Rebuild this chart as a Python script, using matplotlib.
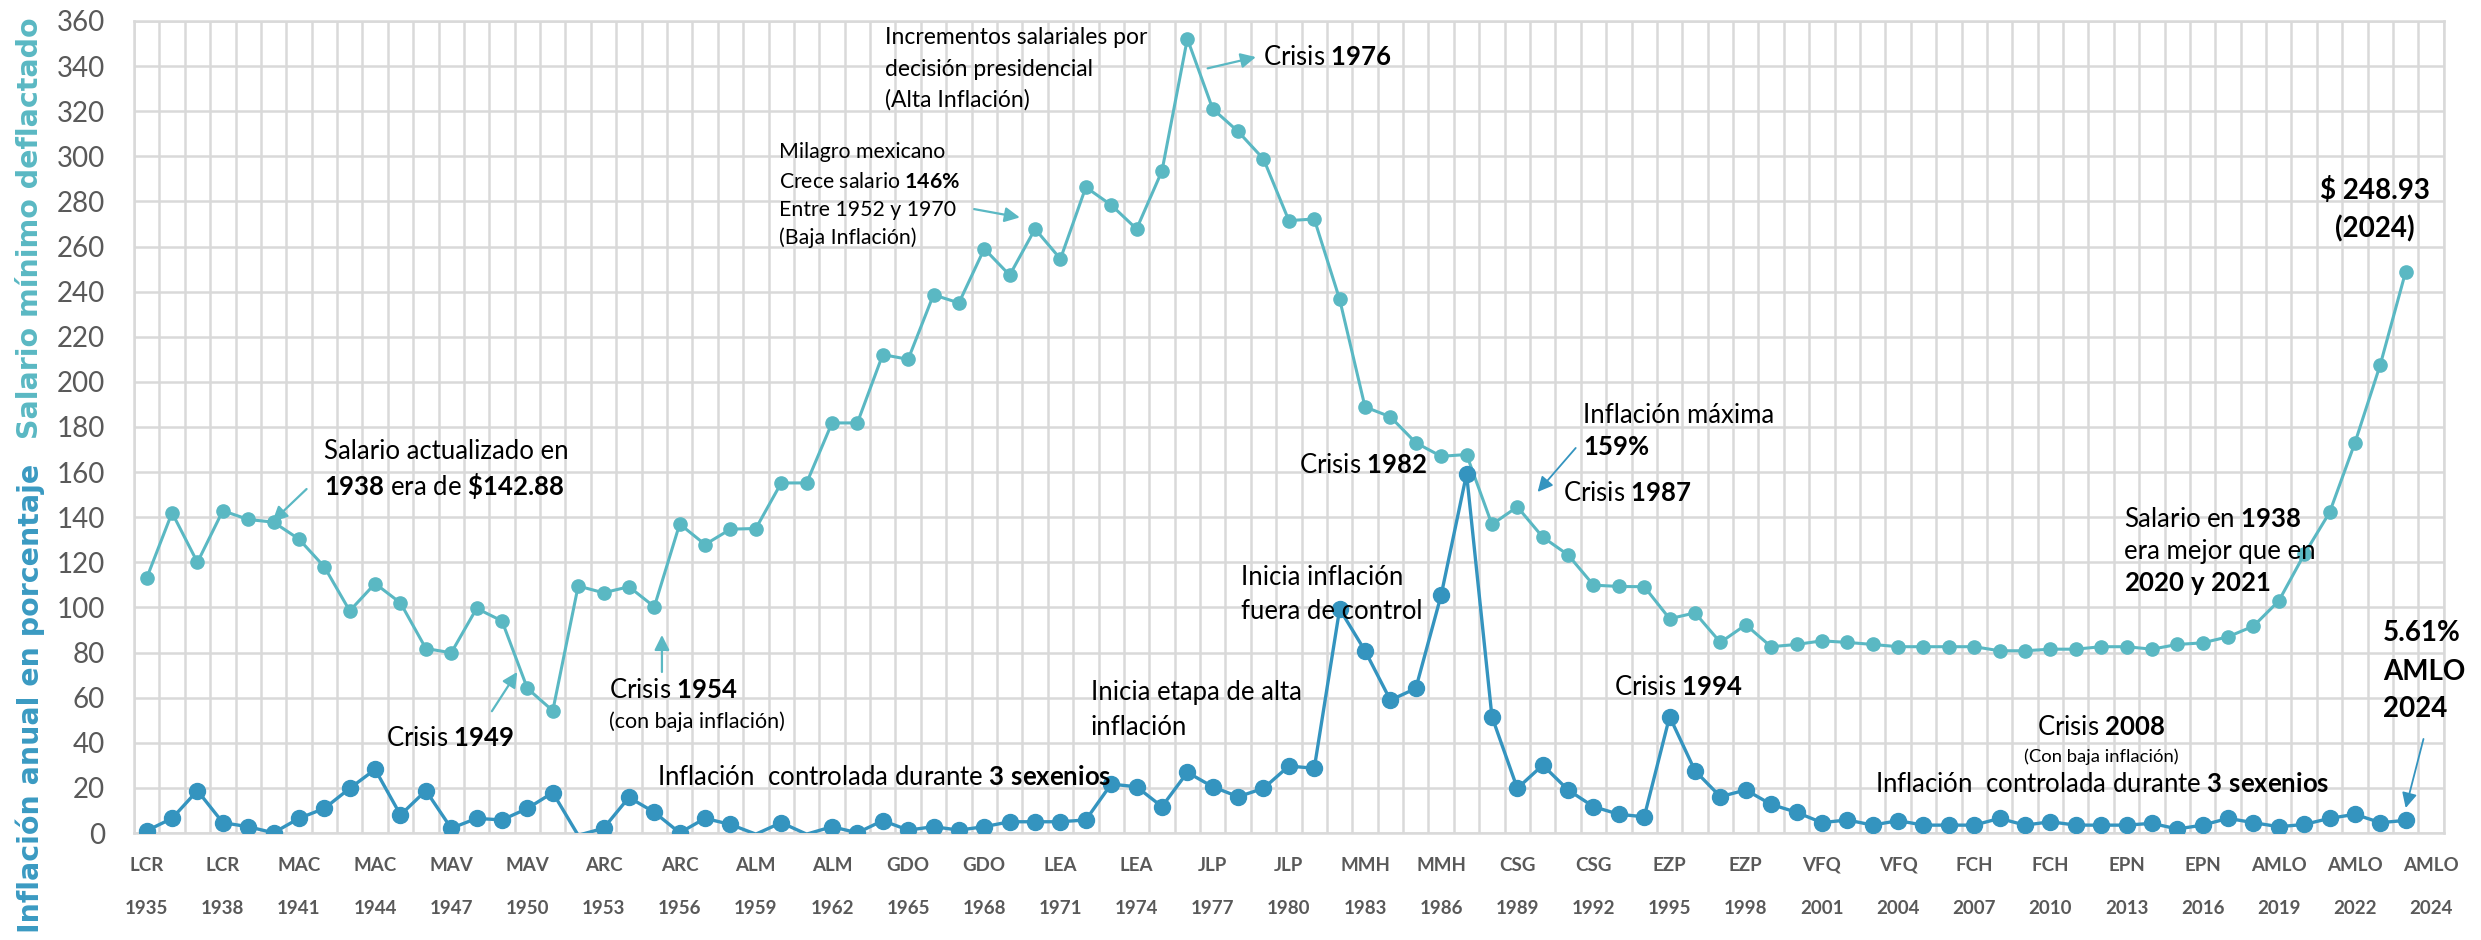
import matplotlib
matplotlib.use("Agg")
import matplotlib.pyplot as plt

plt.rcParams['font.family'] = ['Lato', 'DejaVu Sans']
plt.rcParams['mathtext.fontset'] = 'custom'
plt.rcParams['mathtext.rm'] = 'Lato'
plt.rcParams['mathtext.bf'] = 'Lato:bold'
plt.rcParams['mathtext.it'] = 'Lato:italic'

# ---- data ----
years = list(range(1935, 2025))
salario = [113, 142, 120, 142.88, 139, 137.8, 130.3, 118, 98.5, 110.6,
           102, 81.8, 79.9, 99.6, 94, 64.1, 54.2, 109.5, 106.5, 109.2,
           100.3, 137, 127.9, 134.7, 135, 155.2, 155.2, 181.8, 181.8, 212.1,
           210, 238.6, 235, 259, 247.3, 267.8, 254.5, 286.3, 278.4, 267.8,
           293.5, 352.1, 321, 311, 298.8, 271.5, 272.2, 236.6, 188.9, 184.5,
           173, 167, 167.8, 136.8, 144.6, 131.2, 123.3, 109.9, 109.3, 109.2,
           95, 97.6, 84.5, 92.3, 82.6, 83.6, 85.2, 84.5, 83.6, 82.6,
           82.6, 82.6, 82.6, 80.8, 80.8, 81.5, 81.5, 82.6, 82.6, 81.5,
           83.6, 84.3, 87, 91.7, 102.9, 123.5, 142.1, 173, 207.7, 248.93]
inflacion = [1.0, 6.5, 18.8, 4.6, 2.8, 0.1, 6.5, 10.9, 19.8, 28.2,
             8.0, 18.8, 2.1, 6.5, 5.8, 10.9, 17.9, -1.0, 2.1, 15.8,
             9.2, 0.1, 6.5, 3.8, -0.5, 4.6, -0.5, 2.8, 0.1, 5.5,
             1.3, 2.8, 1.3, 2.8, 5.0, 5.0, 5.0, 5.8, 21.7, 20.5,
             11.7, 26.9, 20.5, 16.1, 19.8, 29.7, 28.7, 99.3, 80.8, 58.9,
             64.1, 105.5, 159.2, 51.6, 19.8, 30.1, 19.1, 11.7, 8.3, 7.2,
             51.6, 27.6, 16.1, 19.1, 12.7, 9.2, 4.6, 5.8, 3.5, 5.5,
             3.5, 3.5, 3.5, 6.5, 3.5, 5.0, 3.5, 3.5, 3.5, 4.3,
             1.8, 3.5, 6.5, 4.6, 2.8, 3.8, 6.5, 8.3, 4.6, 5.61]
presidentes = ['LCR', 'LCR', 'MAC', 'MAC', 'MAV', 'MAV', 'ARC', 'ARC', 'ALM', 'ALM',
               'GDO', 'GDO', 'LEA', 'LEA', 'JLP', 'JLP', 'MMH', 'MMH', 'CSG', 'CSG',
               'EZP', 'EZP', 'VFQ', 'VFQ', 'FCH', 'FCH', 'EPN', 'EPN', 'AMLO', 'AMLO', 'AMLO']
anios_eje = ['1935', '1938', '1941', '1944', '1947', '1950', '1953', '1956', '1959', '1962',
             '1965', '1968', '1971', '1974', '1977', '1980', '1983', '1986', '1989', '1992',
             '1995', '1998', '2001', '2004', '2007', '2010', '2013', '2016', '2019', '2022', '2024']

c_sal = '#5AB8C3'
c_inf = '#3494BF'
gris = '#595959'
grid_c = '#D9D9D9'

fig = plt.figure(figsize=(24.81, 9.40), dpi=100)
ax = fig.add_subplot(111)
fig.subplots_adjust(left=0.054, right=0.985, bottom=0.1138, top=0.9777)

x = list(range(len(years)))
ax.plot(x, salario, color=c_sal, lw=2.2, marker='o', markersize=9.5, zorder=3)
# markers hidden for values under the axis (as in the original)
visibles = [i for i, v in enumerate(inflacion) if v >= 0]
ax.plot(x, inflacion, color=c_inf, lw=2.4, marker='o', markersize=11.5,
        markevery=visibles, zorder=4)

ax.set_ylim(0, 360)
ax.set_xlim(-0.5, len(years) + 0.5)
ax.set_yticks(range(0, 361, 20))
ax.tick_params(axis='y', length=0, pad=21, labelsize=20, labelcolor=gris)

pos = [3 * i for i in range(len(anios_eje))]
ax.set_xticks(pos)
ax.set_xticklabels([p + '\n' + a for p, a in zip(presidentes, anios_eje)],
                   fontsize=13.5, fontweight='bold', color=gris)
for t in ax.get_xticklabels():
    t.set_linespacing(2.9)
ax.tick_params(axis='x', length=0, pad=17)
ax.set_xticks([i - 0.5 for i in range(len(years) + 2)], minor=True)
ax.tick_params(axis='x', which='minor', length=0)

ax.grid(axis='y', which='major', color=grid_c, lw=1.8)
ax.grid(axis='x', which='minor', color=grid_c, lw=1.8)
ax.grid(axis='x', which='major', visible=False)
ax.set_axisbelow(True)
for s in ax.spines.values():
    s.set_color(grid_c)
    s.set_linewidth(1.8)

fig.text(0.012, 1 - 228 / 940, 'Salario mínimo deflactado', rotation=90,
         ha='center', va='center', fontsize=20.5, fontweight='bold',
         color=c_sal, family='DejaVu Sans')
fig.text(0.012, 1 - 698 / 940, 'Inflación anual en porcentaje', rotation=90,
         ha='center', va='center', fontsize=20.5, fontweight='bold',
         color='#3A9AC2', family='DejaVu Sans')


def nota(xx, yy, s, size=18.5, ha='left', color='black'):
    ax.text(xx, yy, s, fontsize=size, ha=ha, va='center', color=color, zorder=6)


def flecha(x0, y0, x1, y1, color=c_sal, lw=1.6):
    ax.annotate('', xy=(x1, y1), xytext=(x0, y0), zorder=6,
                arrowprops=dict(arrowstyle='-|>,head_length=0.9,head_width=0.45',
                                color=color, lw=lw, shrinkA=0, shrinkB=0))


nota(7.0, 169, 'Salario actualizado en')
nota(7.0, 154, r'$\mathbf{1938}$ era de $\mathbf{\$142.88}$')
flecha(6.3, 152.5, 4.95, 138)

nota(11.94, 41.7, r'Crisis $\mathbf{1949}$', ha='center')
flecha(13.6, 54, 14.6, 71.4)

nota(18.2, 63.4, r'Crisis $\mathbf{1954}$')
nota(18.2, 49.2, '(con baja inflación)', size=15.5)
flecha(20.3, 71.4, 20.3, 87.8)

nota(20.1, 24.4, r'Inflación  controlada durante $\mathbf{3\ sexenios}$')

nota(37.2, 62.5, 'Inicia etapa de alta')
nota(37.2, 47, 'inflación')

nota(43.1, 113.5, 'Inicia inflación')
nota(43.1, 98, 'fuera de control')

nota(24.9, 301.9, 'Milagro mexicano', size=15.3)
nota(24.9, 288.5, r'Crece salario $\mathbf{146\%}$', size=15.3)
nota(24.9, 276, 'Entre 1952 y 1970', size=15.3)
nota(24.9, 263.7, '(Baja Inflación)', size=15.3)
flecha(32.6, 276.6, 34.4, 272.9)

nota(29.1, 352.8, 'Incrementos salariales por', size=16.5)
nota(29.1, 338.7, 'decisión presidencial', size=16.5)
nota(29.1, 325, '(Alta Inflación)', size=16.5)

nota(44.0, 344, r'Crisis $\mathbf{1976}$')
flecha(41.8, 339, 43.7, 344)

nota(45.4, 163.1, r'Crisis $\mathbf{1982}$')

nota(56.6, 185.3, 'Inflación máxima')
nota(56.6, 170.7, r'$\mathbf{159\%}$')
flecha(56.3, 170.7, 54.8, 151.2, color=c_inf, lw=1.3)

nota(55.8, 150.7, r'Crisis $\mathbf{1987}$')
nota(57.8, 64.3, r'Crisis $\mathbf{1994}$')

nota(77.9, 139.2, r'Salario en $\mathbf{1938}$')
nota(77.9, 124.6, 'era mejor que en')
nota(77.9, 110.8, r'$\mathbf{2020\ y\ 2021}$')

nota(77.0, 47, r'Crisis $\mathbf{2008}$', ha='center')
nota(77.0, 33.7, '(Con baja inflación)', size=13.3, ha='center')

nota(68.1, 21.3, r'Inflación  controlada durante $\mathbf{3\ sexenios}$')

ax.text(87.8, 285, '$ 248.93', fontsize=20, fontweight='bold', ha='center', va='center')
ax.text(87.8, 268, '(2024)', fontsize=20, fontweight='bold', ha='center', va='center')

ax.text(88.1, 88.7, '5.61%', fontsize=20, fontweight='bold', ha='left', va='center')
ax.text(88.1, 71.4, 'AMLO', fontsize=20, fontweight='bold', ha='left', va='center')
ax.text(88.1, 55, '2024', fontsize=20, fontweight='bold', ha='left', va='center')
flecha(89.7, 41.7, 89.0, 11.1, color=c_inf, lw=1.3)

fig.savefig('out.png', dpi=100)
